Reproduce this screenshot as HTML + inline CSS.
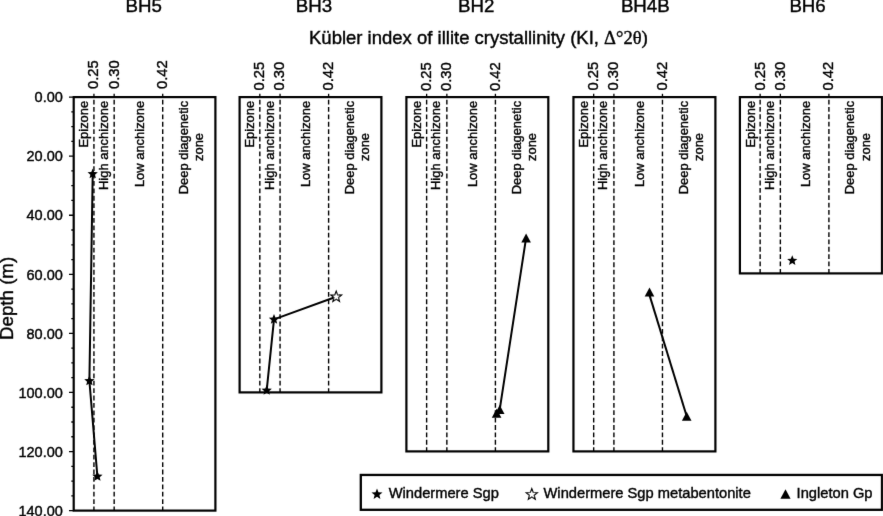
<!DOCTYPE html><html><head><meta charset="utf-8"><style>html,body{margin:0;padding:0;background:#fff;}svg{display:block;will-change:transform;}text{font-family:"Liberation Sans",sans-serif;fill:#000;stroke:#000;stroke-width:0.4px;}</style></head><body>
<svg width="883" height="516" viewBox="0 0 883 516">
<defs><filter id="bl" x="0" y="0" width="883" height="516" filterUnits="userSpaceOnUse"><feConvolveMatrix order="3" kernelMatrix="0.0052 0.0619 0.0052 0.0619 0.7314 0.0619 0.0052 0.0619 0.0052" edgeMode="none"/></filter></defs>
<rect width="883" height="516" fill="#fff"/>
<g filter="url(#bl)">
<text x="143.7" y="12.0" font-size="18.7" text-anchor="middle">BH5</text>
<text x="313.9" y="12.0" font-size="18.7" text-anchor="middle">BH3</text>
<text x="476.2" y="12.0" font-size="18.7" text-anchor="middle">BH2</text>
<text x="645.3" y="12.0" font-size="18.7" text-anchor="middle">BH4B</text>
<text x="807.6" y="12.0" font-size="18.7" text-anchor="middle">BH6</text>
<text x="309" y="44.4" style="font-size:18.5px">Kübler index of illite crystallinity (KI, <tspan style="font-family:&quot;Liberation Serif&quot;,serif">Δ°2θ)</tspan></text>
<text transform="translate(13.3,298.4) rotate(-90)" font-size="18.7" text-anchor="middle">Depth (m)</text>
<text x="62.8" y="102.3" font-size="14.5" text-anchor="end">0.00</text>
<text x="62.8" y="161.4" font-size="14.5" text-anchor="end">20.00</text>
<text x="62.8" y="220.4" font-size="14.5" text-anchor="end">40.00</text>
<text x="62.8" y="279.5" font-size="14.5" text-anchor="end">60.00</text>
<text x="62.8" y="338.6" font-size="14.5" text-anchor="end">80.00</text>
<text x="62.8" y="397.7" font-size="14.5" text-anchor="end">100.00</text>
<text x="62.8" y="456.7" font-size="14.5" text-anchor="end">120.00</text>
<text x="62.8" y="515.8" font-size="14.5" text-anchor="end">140.00</text>
<path d="M69.0 97.10H73.7M71.3 111.87H73.7M71.3 126.64H73.7M71.3 141.40H73.7M69.0 156.17H73.7M71.3 170.94H73.7M71.3 185.71H73.7M71.3 200.47H73.7M69.0 215.24H73.7M71.3 230.01H73.7M71.3 244.78H73.7M71.3 259.55H73.7M69.0 274.31H73.7M71.3 289.08H73.7M71.3 303.85H73.7M71.3 318.62H73.7M69.0 333.39H73.7M71.3 348.15H73.7M71.3 362.92H73.7M71.3 377.69H73.7M69.0 392.46H73.7M71.3 407.23H73.7M71.3 421.99H73.7M71.3 436.76H73.7M69.0 451.53H73.7M71.3 466.30H73.7M71.3 481.06H73.7M71.3 495.83H73.7M69.0 510.60H73.7" stroke="#000" stroke-width="1.3" fill="none"/>
<line x1="93.93" y1="99.65" x2="93.93" y2="510.60" stroke="#000" stroke-width="1.4" stroke-dasharray="4.806 2.593"/>
<line x1="93.93" y1="93.8" x2="93.93" y2="97.10" stroke="#000" stroke-width="1.3"/>
<text transform="translate(98.33,89.10) rotate(-90)" font-size="14.8">0.25</text>
<line x1="114.16" y1="99.65" x2="114.16" y2="510.60" stroke="#000" stroke-width="1.4" stroke-dasharray="4.806 2.593"/>
<line x1="114.16" y1="93.8" x2="114.16" y2="97.10" stroke="#000" stroke-width="1.3"/>
<text transform="translate(118.56,89.10) rotate(-90)" font-size="14.8">0.30</text>
<line x1="162.71" y1="99.65" x2="162.71" y2="510.60" stroke="#000" stroke-width="1.4" stroke-dasharray="4.806 2.593"/>
<line x1="162.71" y1="93.8" x2="162.71" y2="97.10" stroke="#000" stroke-width="1.3"/>
<text transform="translate(167.11,89.10) rotate(-90)" font-size="14.8">0.42</text>
<rect x="73.70" y="97.10" width="141.70" height="413.50" fill="none" stroke="#000" stroke-width="2.2"/>
<text transform="translate(88.30,100.8) rotate(-90)" font-size="12.95" text-anchor="end">Epizone</text>
<text transform="translate(107.60,100.8) rotate(-90)" font-size="12.95" text-anchor="end">High anchizone</text>
<text transform="translate(144.20,100.8) rotate(-90)" font-size="12.95" text-anchor="end">Low anchizone</text>
<text transform="translate(188.20,100.8) rotate(-90)" font-size="12.95" text-anchor="end">Deep diagenetic</text>
<text transform="translate(203.40,147) rotate(-90)" font-size="12.95" text-anchor="middle">zone</text>
<line x1="259.83" y1="99.65" x2="259.83" y2="392.40" stroke="#000" stroke-width="1.4" stroke-dasharray="4.805 2.593"/>
<line x1="259.83" y1="93.8" x2="259.83" y2="97.10" stroke="#000" stroke-width="1.3"/>
<text transform="translate(264.23,90.60) rotate(-90)" font-size="14.8">0.25</text>
<line x1="280.06" y1="99.65" x2="280.06" y2="392.40" stroke="#000" stroke-width="1.4" stroke-dasharray="4.805 2.593"/>
<line x1="280.06" y1="93.8" x2="280.06" y2="97.10" stroke="#000" stroke-width="1.3"/>
<text transform="translate(284.46,90.60) rotate(-90)" font-size="14.8">0.30</text>
<line x1="328.61" y1="99.65" x2="328.61" y2="392.40" stroke="#000" stroke-width="1.4" stroke-dasharray="4.805 2.593"/>
<line x1="328.61" y1="93.8" x2="328.61" y2="97.10" stroke="#000" stroke-width="1.3"/>
<text transform="translate(333.01,90.60) rotate(-90)" font-size="14.8">0.42</text>
<rect x="239.60" y="97.10" width="141.80" height="295.30" fill="none" stroke="#000" stroke-width="2.2"/>
<text transform="translate(254.20,100.8) rotate(-90)" font-size="12.95" text-anchor="end">Epizone</text>
<text transform="translate(273.50,100.8) rotate(-90)" font-size="12.95" text-anchor="end">High anchizone</text>
<text transform="translate(310.10,100.8) rotate(-90)" font-size="12.95" text-anchor="end">Low anchizone</text>
<text transform="translate(354.10,100.8) rotate(-90)" font-size="12.95" text-anchor="end">Deep diagenetic</text>
<text transform="translate(369.30,147) rotate(-90)" font-size="12.95" text-anchor="middle">zone</text>
<line x1="426.63" y1="99.65" x2="426.63" y2="451.40" stroke="#000" stroke-width="1.4" stroke-dasharray="4.804 2.592"/>
<line x1="426.63" y1="93.8" x2="426.63" y2="97.10" stroke="#000" stroke-width="1.3"/>
<text transform="translate(431.03,91.00) rotate(-90)" font-size="14.8">0.25</text>
<line x1="446.86" y1="99.65" x2="446.86" y2="451.40" stroke="#000" stroke-width="1.4" stroke-dasharray="4.804 2.592"/>
<line x1="446.86" y1="93.8" x2="446.86" y2="97.10" stroke="#000" stroke-width="1.3"/>
<text transform="translate(451.26,91.00) rotate(-90)" font-size="14.8">0.30</text>
<line x1="495.41" y1="99.65" x2="495.41" y2="451.40" stroke="#000" stroke-width="1.4" stroke-dasharray="4.804 2.592"/>
<line x1="495.41" y1="93.8" x2="495.41" y2="97.10" stroke="#000" stroke-width="1.3"/>
<text transform="translate(499.81,91.00) rotate(-90)" font-size="14.8">0.42</text>
<rect x="406.40" y="97.10" width="141.90" height="354.30" fill="none" stroke="#000" stroke-width="2.2"/>
<text transform="translate(421.00,100.8) rotate(-90)" font-size="12.95" text-anchor="end">Epizone</text>
<text transform="translate(440.30,100.8) rotate(-90)" font-size="12.95" text-anchor="end">High anchizone</text>
<text transform="translate(476.90,100.8) rotate(-90)" font-size="12.95" text-anchor="end">Low anchizone</text>
<text transform="translate(520.90,100.8) rotate(-90)" font-size="12.95" text-anchor="end">Deep diagenetic</text>
<text transform="translate(536.10,147) rotate(-90)" font-size="12.95" text-anchor="middle">zone</text>
<line x1="593.68" y1="99.65" x2="593.68" y2="451.40" stroke="#000" stroke-width="1.4" stroke-dasharray="4.804 2.592"/>
<line x1="593.68" y1="93.8" x2="593.68" y2="97.10" stroke="#000" stroke-width="1.3"/>
<text transform="translate(598.08,90.60) rotate(-90)" font-size="14.8">0.25</text>
<line x1="613.91" y1="99.65" x2="613.91" y2="451.40" stroke="#000" stroke-width="1.4" stroke-dasharray="4.804 2.592"/>
<line x1="613.91" y1="93.8" x2="613.91" y2="97.10" stroke="#000" stroke-width="1.3"/>
<text transform="translate(618.31,90.60) rotate(-90)" font-size="14.8">0.30</text>
<line x1="662.46" y1="99.65" x2="662.46" y2="451.40" stroke="#000" stroke-width="1.4" stroke-dasharray="4.804 2.592"/>
<line x1="662.46" y1="93.8" x2="662.46" y2="97.10" stroke="#000" stroke-width="1.3"/>
<text transform="translate(666.86,90.60) rotate(-90)" font-size="14.8">0.42</text>
<rect x="573.45" y="97.10" width="141.95" height="354.30" fill="none" stroke="#000" stroke-width="2.2"/>
<text transform="translate(588.05,100.8) rotate(-90)" font-size="12.95" text-anchor="end">Epizone</text>
<text transform="translate(607.35,100.8) rotate(-90)" font-size="12.95" text-anchor="end">High anchizone</text>
<text transform="translate(643.95,100.8) rotate(-90)" font-size="12.95" text-anchor="end">Low anchizone</text>
<text transform="translate(687.95,100.8) rotate(-90)" font-size="12.95" text-anchor="end">Deep diagenetic</text>
<text transform="translate(703.15,147) rotate(-90)" font-size="12.95" text-anchor="middle">zone</text>
<line x1="760.13" y1="99.65" x2="760.13" y2="273.40" stroke="#000" stroke-width="1.4" stroke-dasharray="4.781 2.580"/>
<line x1="760.13" y1="93.8" x2="760.13" y2="97.10" stroke="#000" stroke-width="1.3"/>
<text transform="translate(764.53,90.60) rotate(-90)" font-size="14.8">0.25</text>
<line x1="780.36" y1="99.65" x2="780.36" y2="273.40" stroke="#000" stroke-width="1.4" stroke-dasharray="4.781 2.580"/>
<line x1="780.36" y1="93.8" x2="780.36" y2="97.10" stroke="#000" stroke-width="1.3"/>
<text transform="translate(784.76,90.60) rotate(-90)" font-size="14.8">0.30</text>
<line x1="828.91" y1="99.65" x2="828.91" y2="273.40" stroke="#000" stroke-width="1.4" stroke-dasharray="4.781 2.580"/>
<line x1="828.91" y1="93.8" x2="828.91" y2="97.10" stroke="#000" stroke-width="1.3"/>
<text transform="translate(833.31,90.60) rotate(-90)" font-size="14.8">0.42</text>
<rect x="739.90" y="97.10" width="142.10" height="176.30" fill="none" stroke="#000" stroke-width="2.2"/>
<text transform="translate(754.50,100.8) rotate(-90)" font-size="12.95" text-anchor="end">Epizone</text>
<text transform="translate(773.80,100.8) rotate(-90)" font-size="12.95" text-anchor="end">High anchizone</text>
<text transform="translate(810.40,100.8) rotate(-90)" font-size="12.95" text-anchor="end">Low anchizone</text>
<text transform="translate(854.40,100.8) rotate(-90)" font-size="12.95" text-anchor="end">Deep diagenetic</text>
<text transform="translate(869.60,147) rotate(-90)" font-size="12.95" text-anchor="middle">zone</text>
<polyline points="92.70,173.90 89.40,381.00 97.40,476.50" fill="none" stroke="#000" stroke-width="2.0" stroke-linejoin="round"/>
<polygon points="92.70,168.50 94.13,171.93 97.84,172.23 95.01,174.65 95.87,178.27 92.70,176.33 89.53,178.27 90.39,174.65 87.56,172.23 91.27,171.93" fill="#000"/>
<polygon points="89.40,375.60 90.83,379.03 94.54,379.33 91.71,381.75 92.57,385.37 89.40,383.43 86.23,385.37 87.09,381.75 84.26,379.33 87.97,379.03" fill="#000"/>
<polygon points="97.40,471.10 98.83,474.53 102.54,474.83 99.71,477.25 100.57,480.87 97.40,478.93 94.23,480.87 95.09,477.25 92.26,474.83 95.97,474.53" fill="#000"/>
<polyline points="266.70,390.40 274.00,319.40 336.20,296.80" fill="none" stroke="#000" stroke-width="2.0" stroke-linejoin="round"/>
<polygon points="266.70,385.00 268.13,388.43 271.84,388.73 269.01,391.15 269.87,394.77 266.70,392.83 263.53,394.77 264.39,391.15 261.56,388.73 265.27,388.43" fill="#000"/>
<polygon points="274.00,314.00 275.43,317.43 279.14,317.73 276.31,320.15 277.17,323.77 274.00,321.83 270.83,323.77 271.69,320.15 268.86,317.73 272.57,317.43" fill="#000"/>
<polygon points="336.20,291.20 337.62,294.85 341.53,295.07 338.49,297.54 339.49,301.33 336.20,299.21 332.91,301.33 333.91,297.54 330.87,295.07 334.78,294.85" fill="#fff" stroke="#000" stroke-width="1.2" stroke-linejoin="miter"/>
<polyline points="526.10,237.90 499.70,409.60 496.60,413.30" fill="none" stroke="#000" stroke-width="2.0" stroke-linejoin="round"/>
<polygon points="526.10,233.40 530.90,242.40 521.30,242.40" fill="#000"/>
<polygon points="499.70,405.10 504.50,414.10 494.90,414.10" fill="#000"/>
<polygon points="496.60,408.80 501.40,417.80 491.80,417.80" fill="#000"/>
<polyline points="648.60,292.10 686.70,416.20" fill="none" stroke="#000" stroke-width="2.0" stroke-linejoin="round"/>
<polygon points="649.50,287.60 654.30,296.60 644.70,296.60" fill="#000"/>
<polygon points="686.70,411.70 691.50,420.70 681.90,420.70" fill="#000"/>
<polygon points="792.25,255.25 793.67,258.65 797.34,258.95 794.54,261.34 795.39,264.93 792.25,263.01 789.11,264.93 789.96,261.34 787.16,258.95 790.83,258.65" fill="#000"/>
<rect x="360.8" y="474.95" width="521.2" height="34.85" fill="none" stroke="#000" stroke-width="2.3"/>
<polygon points="377.00,488.40 378.47,492.18 382.52,492.41 379.37,494.97 380.41,498.89 377.00,496.69 373.59,498.89 374.63,494.97 371.48,492.41 375.53,492.18" fill="#000"/>
<text x="388.7" y="497.5" font-size="14.7">Windermere Sgp</text>
<polygon points="531.80,488.70 533.27,492.48 537.32,492.71 534.17,495.27 535.21,499.19 531.80,496.99 528.39,499.19 529.43,495.27 526.28,492.71 530.33,492.48" fill="#fff" stroke="#000" stroke-width="1.2"/>
<text x="543.5" y="497.5" font-size="14.7">Windermere Sgp metabentonite</text>
<polygon points="785.50,489.35 790.60,498.65 780.40,498.65" fill="#000"/>
<text x="796.6" y="497.5" font-size="14.7">Ingleton Gp</text>
</g></svg></body></html>
